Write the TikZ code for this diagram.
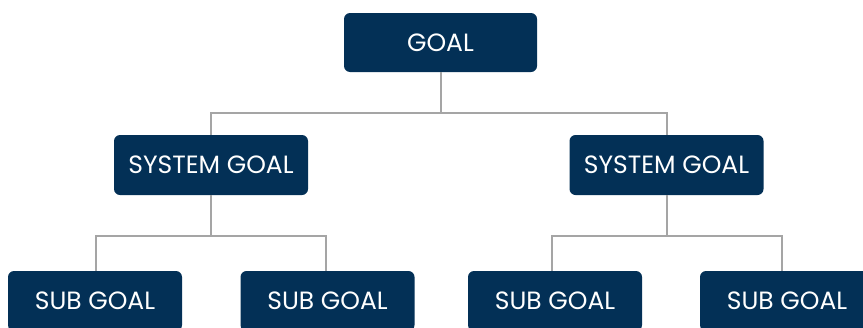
\documentclass[tikz,border=0pt]{standalone}
\usepackage{fontspec}
\setmainfont{Poppins}
\definecolor{navy}{RGB}{3,48,86}
\definecolor{conngray}{RGB}{165,165,165}
\begin{document}
\begin{tikzpicture}[x=1pt,y=-1pt,
  box/.style={rectangle, rounded corners=6pt, fill=navy, text=white, inner sep=0pt,
    font=\fontsize{25}{29}\selectfont, minimum height=60pt},
  goalbox/.style={box, minimum width=193pt, minimum height=59pt},
  sysbox/.style={box, minimum width=194pt},
  subbox/.style={box, minimum width=174pt},
  conn/.style={draw=conngray, line width=2pt}]
\clip (0,0) rectangle (863,327);
\useasboundingbox (0,0) rectangle (863,327);
\node[goalbox] (goal) at (440.5,42.5) {GOAL};
\node[sysbox] (sysL) at (211,165) {SYSTEM GOAL};
\node[sysbox] (sysR) at (666.5,165) {SYSTEM GOAL};
\node[subbox] (s1) at (95,301) {SUB GOAL};
\node[subbox] (s2) at (327.5,301) {SUB GOAL};
\node[subbox] (s3) at (555,301) {SUB GOAL};
\node[subbox] (s4) at (787,301) {SUB GOAL};
\coordinate (j1) at (440.5,113);
\coordinate (j2) at (211,236);
\coordinate (j3) at (666.5,236);
\draw[conn] (goal.south) -- (j1);
\draw[conn] (sysL.north) |- (j1) -| (sysR.north);
\draw[conn] (sysL.south) -- (j2);
\draw[conn] ([xshift=1pt]s1.north) |- (j2) -| ([xshift=-2pt]s2.north);
\draw[conn] (sysR.south) -- (j3);
\draw[conn] ([xshift=-3pt]s3.north) |- (j3) -| ([xshift=-5pt]s4.north);
\end{tikzpicture}
\end{document}
